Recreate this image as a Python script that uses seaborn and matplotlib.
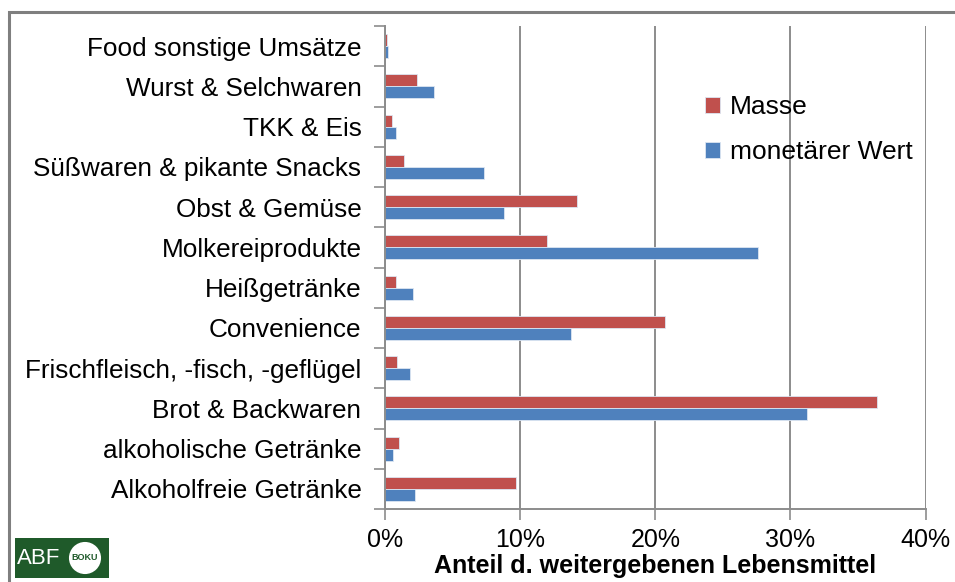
import pandas as pd
import matplotlib.pyplot as plt
import seaborn as sns
from matplotlib.patches import Rectangle, Circle
from matplotlib.ticker import FuncFormatter, FixedLocator


categories = [
    "Food sonstige Umsätze",
    "Wurst & Selchwaren",
    "TKK & Eis",
    "Süßwaren & pikante Snacks",
    "Obst & Gemüse",
    "Molkereiprodukte",
    "Heißgetränke",
    "Convenience",
    "Frischfleisch, -fisch, -geflügel",
    "Brot & Backwaren",
    "alkoholische Getränke",
    "Alkoholfreie Getränke",
]
masse = [0.15, 2.4, 0.5, 1.4, 14.2, 12.0, 0.8, 20.7, 0.9, 36.4, 1.0, 9.7]
wert = [0.25, 3.6, 0.8, 7.3, 8.8, 27.6, 2.1, 13.8, 1.85, 31.2, 0.6, 2.2]
series = ["Masse", "monetärer Wert"]
x_ticks = [0, 10, 20, 30, 40]
x_label = "Anteil d. weitergebenen Lebensmittel"

RED = "#c0504d"
BLUE = "#4f81bd"
GRID = "#8c8c8c"
GREEN = "#1f5a2a"


def build_frame():
    rows = []
    for cat, m, w in zip(categories, masse, wert):
        rows.append({"Kategorie": cat, "Serie": series[0], "Anteil": m})
        rows.append({"Kategorie": cat, "Serie": series[1], "Anteil": w})
    return pd.DataFrame(rows)


def draw_logo(fig):
    ax = fig.add_axes([15 / 955, 1 - 578 / 582, 94 / 955, 40 / 582])
    ax.set_xlim(0, 94)
    ax.set_ylim(0, 40)
    ax.axis("off")
    ax.add_patch(Rectangle((0, 0), 94, 40, color=GREEN))
    ax.text(24, 19, "ABF", color="white", fontsize=16, ha="center", va="center",
            fontweight="light")
    ax.add_patch(Circle((70, 20), 15, facecolor="white", edgecolor="white", lw=1.5))
    ax.text(70, 20, "BOKU", color=GREEN, fontsize=6.5, fontweight="bold",
            ha="center", va="center")


def main():
    sns.set_style("white")
    plt.rcParams["font.family"] = ["Liberation Sans", "DejaVu Sans"]
    plt.rcParams["text.color"] = "black"

    df = build_frame()

    fig = plt.figure(figsize=(9.55, 5.82), dpi=100)
    ax = fig.add_axes([385 / 955, 1 - 509 / 582, 540.5 / 955, 483 / 582])

    sns.barplot(data=df, y="Kategorie", x="Anteil", hue="Serie", order=categories,
                hue_order=series, palette=[RED, BLUE], saturation=1, width=0.6,
                orient="h", edgecolor="#dce6f2", linewidth=0.6, ax=ax)

    ax.set_xlim(0, 40)
    ax.set_ylim(len(categories) - 0.5, -0.5)
    ax.set_xticks(x_ticks)
    ax.xaxis.set_major_formatter(FuncFormatter(lambda v, p: f"{v:.0f}%"))
    ax.tick_params(axis="x", direction="out", length=8, width=1.2, color=GRID,
                   labelsize=18, pad=6, bottom=True, labelcolor="black")
    ax.grid(axis="x", color=GRID, linewidth=1.4)
    ax.set_axisbelow(True)

    ax.tick_params(axis="y", which="major", length=0, labelsize=18.8, pad=17,
                   labelcolor="black")
    ax.yaxis.set_minor_locator(FixedLocator([i - 0.5 for i in range(len(categories) + 1)]))
    ax.tick_params(axis="y", which="minor", direction="out", length=8, width=1.2,
                   color=GRID, left=True)

    for side in ["top", "right"]:
        ax.spines[side].set_visible(False)
    for side in ["left", "bottom"]:
        ax.spines[side].set_color(GRID)
        ax.spines[side].set_linewidth(1.4)

    ax.set_ylabel("")
    ax.set_xlabel(x_label, fontsize=18, fontweight="bold", labelpad=1, color="black")

    handles, labels = ax.get_legend_handles_labels()
    ax.legend(handles, labels, loc="upper left", bbox_to_anchor=(692 / 955, 1 - 82 / 582),
              bbox_transform=fig.transFigure, frameon=False, fontsize=19,
              handlelength=0.55, handleheight=0.55, handletextpad=0.4,
              labelspacing=0.8, borderpad=0)

    fig.add_artist(Rectangle((9 / 955, -0.1), 1.2, 1.0 + 0.1 - 12 / 582,
                             transform=fig.transFigure, fill=False,
                             edgecolor="#7f7f7f", linewidth=2.2))

    draw_logo(fig)

    fig.savefig("out.png", dpi=100)
    plt.close(fig)


if __name__ == "__main__":
    main()
